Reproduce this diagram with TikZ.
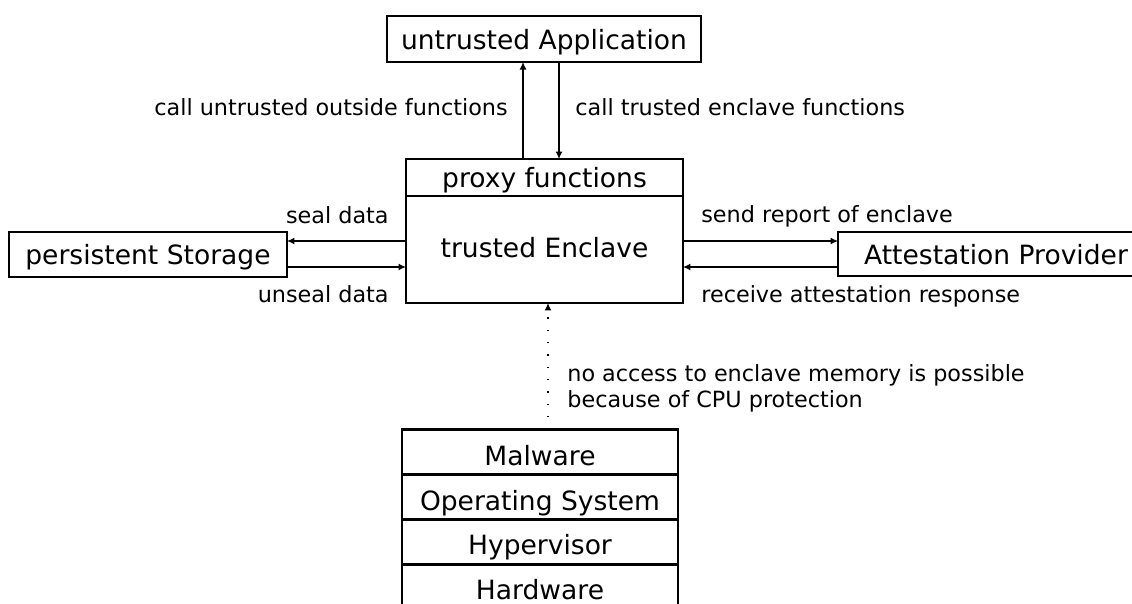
\documentclass[tikz,border=0pt]{standalone}
\usepackage{fontspec}
\setmainfont{DejaVu Sans}
\usetikzlibrary{positioning,arrows.meta}

\begin{document}
\begin{tikzpicture}[%
      x=0.02cm, y=-0.02cm,
      box/.style={draw, line width=1.25pt, inner sep=0pt, outer sep=0pt, text depth=0pt, font=\fontsize{15.1}{18}\selectfont},
      layer/.style={box, minimum width=5.52cm, minimum height=0.9cm, text height=0.52cm},
      lbl/.style={inner sep=0pt, font=\fontsize{12.7}{14.8}\selectfont},
      arr/.style={line width=0.8pt, -{Latex[length=1.5mm,width=1.4mm]}},
      dotarr/.style={arr, dash pattern=on 0.8pt off 6.2pt},
      ]
      \useasboundingbox (0,0) rectangle (1132,603);
      \clip (0,0) rectangle (1132,603);

      \node [box, minimum width=6.28cm, minimum height=0.92cm] (app) at (544,39) {untrusted Application};
      \node [box, minimum width=5.54cm, minimum height=0.74cm] (proxy) at (544.5,177.5) {proxy functions};
      \node [box, minimum width=5.54cm, minimum height=2.14cm, text depth=0.08cm, below=0pt of proxy] (encl) {trusted Enclave};
      \node [box, minimum width=5.56cm, minimum height=0.9cm] (store) at (148,254.5) {persistent Storage};
      \node [box, minimum width=6.32cm, minimum height=0.88cm] (attest) at (996,254) {Attestation Provider};

      \node [layer] (mal) at (540,452) {Malware};
      \node [layer, below=0pt of mal] (os) {Operating System};
      \node [layer, below=0pt of os] (hyp) {Hypervisor};
      \node [layer, below=0pt of hyp] (hw) {Hardware};

      \coordinate (up) at ([xshift=-0.43cm]proxy.north);
      \coordinate (down) at ([xshift=0.3cm]app.south);
      \coordinate (sealpt) at ([yshift=0.27cm]store.east);
      \coordinate (unsealpt) at ([yshift=-0.25cm]store.east);
      \coordinate (sendpt) at ([yshift=0.26cm]attest.west);
      \coordinate (recvpt) at ([yshift=-0.26cm]attest.west);
      \coordinate (attack) at ([xshift=0.16cm]mal.north);

      \draw [arr] (up) -- (up |- app.south);
      \draw [arr] (down) -- (down |- proxy.north);
      \draw [arr] (sealpt -| encl.west) -- (sealpt);
      \draw [arr] (unsealpt) -- (unsealpt -| encl.west);
      \draw [arr] (sendpt -| encl.east) -- (sendpt);
      \draw [arr] (recvpt) -- (recvpt -| encl.east);
      \draw [dotarr] (attack) -- (attack |- encl.south);

      \node [lbl, anchor=base east] (l1) at (508,115) {call untrusted outside functions};
      \node [lbl, anchor=base west] (l2) at (575,115) {call trusted enclave functions};
      \node [lbl, anchor=base east] (l3) at (389,223) {seal data};
      \node [lbl, anchor=base east] (l4) at (389,302) {unseal data};
      \node [lbl, anchor=base west] (l5) at (701,222) {send report of enclave};
      \node [lbl, anchor=base west] (l6) at (701,302) {receive attestation response};
      \node [lbl, anchor=west, align=left] (l7) at (567,388) {no access to enclave memory is possible\\because of CPU protection};
      \end{tikzpicture}
\end{document}
